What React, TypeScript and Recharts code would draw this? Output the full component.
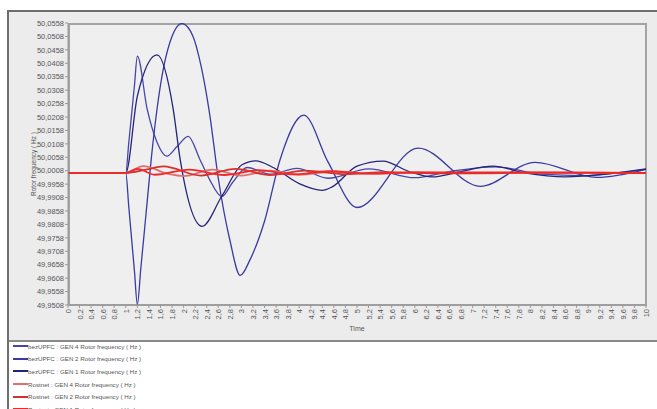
import React from 'react';
import { LineChart, Line, XAxis, YAxis, Legend } from 'recharts';

// ---------- tick labels ----------
const xTicks = [0, 0.2, 0.4, 0.6, 0.8, 1, 1.2, 1.4, 1.6, 1.8, 2, 2.2, 2.4, 2.6, 2.8, 3, 3.2, 3.4, 3.6, 3.8, 4, 4.2, 4.4, 4.6, 4.8, 5, 5.2, 5.4, 5.6, 5.8, 6, 6.2, 6.4, 6.6, 6.8, 7, 7.2, 7.4, 7.6, 7.8, 8, 8.2, 8.4, 8.6, 8.8, 9, 9.2, 9.4, 9.6, 9.8, 10];
const yTicks = [49.9508, 49.9558, 49.9608, 49.9658, 49.9708, 49.9758, 49.9808, 49.9858, 49.9908, 49.9958, 50.0008, 50.0058, 50.0108, 50.0158, 50.0208, 50.0258, 50.0308, 50.0358, 50.0408, 50.0458, 50.0508, 50.0558];

// ---------- series (time s, frequency Hz) ----------
const bezGen4: [number, number][] = [
  [0, 50.0], [1.0, 50.0], [1.05, 50.0109], [1.1, 50.0218], [1.15, 50.0326], [1.2, 50.0435],
  [1.37, 50.0237], [1.54, 50.0114], [1.71, 50.0062], [1.89, 50.0099], [2.08, 50.0136],
  [2.28, 50.0051], [2.45, 49.9975], [2.66, 49.9912], [2.85, 49.9965], [3.1, 50.002],
  [3.5, 49.9995], [3.96, 50.0017], [4.5, 49.998], [5.2, 50.0015], [6.0, 49.9982],
  [6.6, 50.0005], [7.4, 50.0022], [8.2, 49.9995], [8.9, 49.999], [9.5, 50.0], [10, 50.0013],
];
const bezGen2: [number, number][] = [
  [0, 50.0], [1.0, 50.0], [1.05, 49.9878], [1.1, 49.9755], [1.15, 49.9633], [1.2, 49.951],
  [1.26, 49.9645], [1.32, 49.978], [1.38, 49.9916], [1.44, 50.0051], [1.54, 50.0237],
  [1.626, 50.036], [1.765, 50.0487], [1.972, 50.0556], [2.16, 50.051], [2.3, 50.04],
  [2.45, 50.022], [2.6, 49.998], [2.8, 49.975], [2.98, 49.9618], [3.15, 49.9677],
  [3.4, 49.982], [3.67, 50.005], [4.08, 50.0215], [4.5, 50.004], [5.0, 49.9871],
  [6.06, 50.0092], [7.13, 49.995], [8.08, 50.0039], [9.15, 49.9983], [10, 50.0013],
];
const bezGen1: [number, number][] = [
  [0, 50.0], [1.0, 50.0], [1.2, 50.0286], [1.54, 50.0439], [1.82, 50.0237], [1.94, 50.0051],
  [2.32, 49.9801], [2.66, 49.9913], [3.01, 50.003], [3.25, 50.0045], [3.55, 50.002],
  [4.0, 49.996], [4.4, 49.9935], [4.57, 49.9948], [5.0, 50.0025], [5.45, 50.0044],
  [5.9, 50.0005], [6.3, 49.9985], [6.8, 50.0005], [7.35, 50.0025], [7.9, 50.0],
  [8.6, 49.9985], [9.3, 49.9995], [10, 50.0015],
];
const rostGen4: [number, number][] = [
  [0, 50.0], [1.0, 50.0], [1.3, 50.0025], [1.75, 49.9995], [2.0, 49.9988], [2.5, 50.0012],
  [3.0, 49.999], [3.5, 50.0008], [4.0, 49.9993], [4.6, 50.0005], [5.3, 49.9997],
  [6.0, 50.0002], [7.0, 49.9998], [8.0, 50.0001], [10, 50.0],
];
const rostGen2: [number, number][] = [
  [0, 50.0], [1.0, 50.0], [1.35, 50.0012], [1.65, 50.0024], [2.3, 49.999], [2.9, 50.0015],
  [3.5, 49.9992], [4.1, 50.0008], [4.8, 49.9995], [5.5, 50.0003], [6.5, 49.9998],
  [8.0, 50.0001], [10, 49.9999],
];
const rostGen1: [number, number][] = [
  [0, 50.0], [1.0, 50.0], [1.2, 50.0015], [1.5, 49.9993], [2.1, 50.0012], [2.7, 49.9992],
  [3.3, 50.001], [3.9, 49.9994], [4.5, 50.0006], [5.2, 49.9997], [6.0, 50.0002], [10, 50.0],
];

const seriesNames = [
  'bezUPFC : GEN 4 Rotor frequency ( Hz )',
  'bezUPFC : GEN 2 Rotor frequency ( Hz )',
  'bezUPFC : GEN 1 Rotor frequency ( Hz )',
  'Rostnet : GEN 4 Rotor frequency ( Hz )',
  'Rostnet : GEN 2 Rotor frequency ( Hz )',
  'Rostnet : GEN 1 Rotor frequency ( Hz )',
];
const seriesData = [bezGen4, bezGen2, bezGen1, rostGen4, rostGen2, rostGen1];
const seriesColors = ['#4646a8', '#3a3aa0', '#24247a', '#e07070', '#d23232', '#f02828'];
const seriesWidths = [1.3, 1.3, 1.3, 1.8, 1.8, 1.8];

const FONT = '"Liberation Sans", Arial, sans-serif';

const toPts = (arr: [number, number][]) => arr.map(([t, v]) => ({ t, v }));
const fmtX = (t: number) => (Number.isInteger(t) ? String(t) : t.toFixed(1).replace('.', ','));
const fmtY = (v: number) => v.toFixed(4).replace('.', ',');

const XTick = (props: any) => {
  const { x, y, payload } = props;
  return (
    <text
      transform={`translate(${x + 0.5},${y + 1}) rotate(-90)`}
      textAnchor="end"
      dominantBaseline="central"
      fontSize={7.5}
      fill="#555"
      fontFamily={FONT}
    >
      {fmtX(payload.value)}
    </text>
  );
};

const renderLegend = (props: any) => {
  const items = [...(props.payload || [])].sort(
    (a: any, b: any) => seriesNames.indexOf(a.value) - seriesNames.indexOf(b.value)
  );
  return (
    <div>
      {items.map((e: any, i: number) => (
        <div key={i} style={{ height: 12.6, display: 'flex', alignItems: 'center' }}>
          <svg width={15} height={4} style={{ display: 'block' }}>
            <line x1={0} y1={2} x2={15} y2={2} stroke={e.color} strokeWidth={2} />
          </svg>
          <span style={{ fontSize: 6.2, color: '#555', fontFamily: FONT, whiteSpace: 'nowrap' }}>{e.value}</span>
        </div>
      ))}
    </div>
  );
};

export default function App() {
  return (
    <div style={{ position: 'absolute', left: 0, top: 0, width: 657, height: 409, overflow: 'hidden', background: '#fff' }}>
      {/* upper panel */}
      <div style={{ position: 'absolute', left: 7, top: 10, width: 650, height: 332, background: '#ececec', borderTop: '2px solid #6e6e6e', borderBottom: '2px solid #8a8a8a', boxSizing: 'border-box' }} />
      {/* left frame line */}
      <div style={{ position: 'absolute', left: 7, top: 10, width: 2, height: 399, background: '#6e6e6e' }} />
      {/* plot area background + border */}
      <div style={{ position: 'absolute', left: 68, top: 23, width: 579, height: 283, background: '#efefef', border: '2px solid #a3a3a3', boxSizing: 'border-box' }} />
      <div style={{ position: 'absolute', left: 0, top: 0 }}>
        <LineChart width={657} height={409} margin={{ top: 23, right: 11, bottom: 68, left: 8 }}>
          <XAxis
            dataKey="t"
            type="number"
            domain={[0, 10]}
            ticks={xTicks}
            interval={0}
            height={36}
            allowDataOverflow
            stroke="#999"
            tickSize={3}
            tickMargin={0}
            tick={<XTick />}
            label={{ value: 'Time', position: 'insideBottom', offset: 10, style: { fontSize: 7, fill: '#555', fontFamily: FONT } }}
          />
          <YAxis
            type="number"
            domain={[49.9508, 50.0558]}
            ticks={yTicks}
            interval={0}
            width={60}
            allowDataOverflow
            stroke="#999"
            tickSize={3}
            tickMargin={1}
            tickFormatter={fmtY}
            tick={{ fontSize: 7.5, fill: '#555', fontFamily: FONT }}
            label={{ value: 'Rotor frequency ( Hz )', angle: -90, position: 'center', dx: -4, style: { fontSize: 6.5, fill: '#555', fontFamily: FONT } }}
          />
          {seriesData.map((d, i) => (
            <Line
              key={seriesNames[i]}
              data={toPts(d)}
              dataKey="v"
              name={seriesNames[i]}
              type="monotone"
              dot={false}
              stroke={seriesColors[i]}
              strokeWidth={seriesWidths[i]}
              isAnimationActive={false}
            />
          ))}
          <Legend
            layout="vertical"
            align="center"
            verticalAlign="middle"
            wrapperStyle={{ position: 'absolute', top: 340, left: 13, width: 300, height: 80 }}
            content={renderLegend}
          />
        </LineChart>
      </div>
    </div>
  );
}
